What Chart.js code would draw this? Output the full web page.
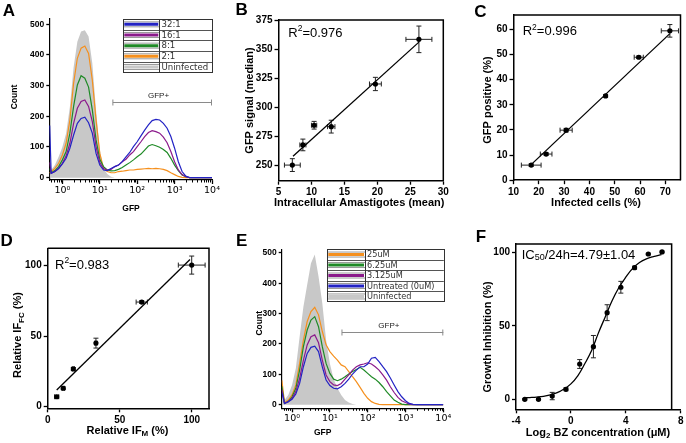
<!DOCTYPE html>
<html><head><meta charset="utf-8">
<script src="https://cdn.jsdelivr.net/npm/chart.js@4/dist/chart.umd.min.js"></script>
<style>
html,body{margin:0;padding:0;background:#fff;width:686px;height:443px;overflow:hidden;position:relative}
canvas{position:absolute}
</style></head><body>
<script>
// ---------------- DATA ----------------
// Panel A: flow histograms (x = log10 GFP)
const gridA = [-0.34,-0.3,-0.2,-0.1,0,0.1,0.2,0.3,0.4,0.5,0.6,0.7,0.8,0.9,1.0,1.1,1.2,1.3,1.4,1.5,1.6,1.7,1.8,1.9,2.0,2.1,2.2,2.3,2.4,2.5,2.6,2.7,2.8,2.9,3.0,3.1,3.2,3.3,3.4,3.5,4.0];
const aUninfected = [20,25,41,68,100,145,230,360,443,476,480,460,373,220,90,30,12,3,0,0,0,0,0,0,0,0,0,0,0,0,0,0,0,0,0,0,0,0,0,0,0];
const a2to1  = [15,20,30,47,74,112,188,308,389,422,429,405,318,188,79,30,20,16,16,20,21,23,25,25,27,28,29,30,29,30,29,27,23,16,10,4,1,0,0,0,0];
const a8to1  = [30,16,23,36,58,85,145,232,302,332,324,295,221,123,60,36,25,22,23,27,33,41,49,58,68,77,90,103,108,104,99,92,82,63,41,23,9,3,0,0,0];
const a16to1 = [50,14,20,30,47,71,112,177,226,248,253,232,183,101,49,30,25,27,36,41,52,60,74,85,101,117,134,147,153,150,145,132,114,85,52,25,10,3,0,0,0];
const a32to1 = [170,14,20,30,45,63,96,139,177,193,197,179,145,79,41,25,23,30,36,41,52,68,82,101,117,136,155,172,186,190,188,177,161,134,96,52,20,5,0,0,0];
const legendA = ['32:1','16:1','8:1','2:1','Uninfected'];

// Panel E: flow histograms
const gridE = [-0.27,-0.2,-0.1,0,0.1,0.2,0.3,0.4,0.5,0.6,0.7,0.8,0.9,1.0,1.1,1.2,1.3,1.4,1.5,1.6,1.7,1.8,1.9,2.0,2.1,2.2,2.3,2.4,2.5,2.6,2.7,2.8,2.9,3.0,3.1,3.2,3.3,3.4,3.5,4.0];
const eUninfected = [10,15,32,65,120,224,323,395,466,495,422,334,213,136,84,54,32,15,7,2,0,0,0,0,0,0,0,0,0,0,0,0,0,0,0,0,0,0,0,0];
const e25uM   = [80,7,15,32,65,136,213,274,307,321,296,241,197,175,160,147,131,125,109,92,76,57,37,21,10,4,1,0,0,0,0,0,0,0,0,0,0,0,0,0];
const e625uM  = [60,4,10,26,54,114,191,246,279,290,257,191,136,103,84,79,84,92,101,109,116,123,114,103,92,84,73,59,43,29,15,8,2,0,0,0,0,0,0,0];
const e3125uM = [50,4,10,21,43,87,147,197,224,230,204,147,98,76,65,63,70,84,98,114,125,131,134,138,134,125,114,98,81,59,40,24,13,7,2,0,0,0,0,0];
const eUntreated = [40,4,10,18,35,70,125,169,189,193,175,125,81,63,54,52,59,70,84,101,114,125,125,134,153,156,142,125,109,88,65,43,26,13,4,1,0,0,0,0];
const legendE = ['25uM','6.25uM','3.125uM','Untreated (0uM)','Uninfected'];
const logTicks = [0,1,2,3,4];
const logTickLabels = ['10\u2070','10\u00b9','10\u00b2','10\u00b3','10\u2074'];
const countTicks = [0,100,200,300,400,500];

// Panel B
const bX = [7.1, 8.7, 10.4, 13.0, 19.7, 26.3];
const bY = [250.5, 267.8, 284.7, 283.5, 320.1, 358.4];
const bXerr = [1.2, 0.46, 0.4, 0.56, 0.9, 1.97];
const bYerr = [5.5, 5.0, 3.3, 5.5, 5.7, 11.4];
const bFitX = [7.2, 26.3];
const bFitY = [258, 356];
const bXTicks = [5,10,15,20,25,30];
const bYTicks = [250,275,300,325,350,375];

// Panel C
const cX = [17.0, 22.9, 30.8, 46.4, 59.5, 71.8];
const cY = [6.0, 10.4, 19.9, 33.5, 48.9, 59.4];
const cXerr = [3.9, 2.3, 2.4, 0, 1.8, 3.4];
const cYerr = [0.5, 0.5, 0.7, 0.5, 0.5, 2.5];
const cFitX = [17.4, 71.7];
const cFitY = [6.6, 58.2];
const cXTicks = [10,20,30,40,50,60,70];
const cYTicks = [0,10,20,30,40,50,60];

// Panel D
const dX = [6.25, 10.8, 17.8, 33.5, 65.3, 100];
const dY = [7.1, 13.1, 26.8, 45.1, 74.2, 100.4];
const dXerr = [1.4, 0.8, 0.8, 0.8, 3.9, 9.3];
const dYerr = [1.0, 1.0, 1.0, 3.5, 1.0, 6.4];
const dFitX = [6.25, 98.8];
const dFitY = [11.9, 104.3];
const dTicks = [0,50,100];

// Panel F
const fX = [-3.36,-2.36,-1.36,-0.36,0.64,1.64,2.64,3.64,4.64,5.64,6.64];
const fY = [0, 0, 2.2, 6.8, 24, 35.8, 58.9, 76.2, 89.5, 98.8, 100.2];
const fYerr = [0.5,0.5,2.5,1,3,7.6,5.4,4,1,0.5,0.5];
const fCurveX = [-3.4,-3,-2.5,-2,-1.5,-1,-0.5,0,0.5,1,1.5,2,2.5,3,3.5,4,4.5,5,5.5,6,6.6];
const fCurveY = [1,1.2,1.5,2,3,4.5,7,10.5,16,24,33,45,56,67,76,83,89,93,95.5,97,98.3];
const fXTicks = [-4,0,4,8];
const fYTicks = [0,50,100];

// ---------------- STYLE ----------------
const COL = {blue:'#2323c4', purple:'#8b1a8b', green:'#1f8a26', orange:'#f5901e', gray:'#c8c8c8'};
const SANS = "'Liberation Sans', Arial, sans-serif";
Chart.defaults.animation = false;
Chart.defaults.font.family = SANS;
Chart.defaults.color = '#000';

const zip = (xs, ys) => xs.map((x,i)=>({x, y:ys[i]}));
const deco = {};

function rich(ctx, segs, x, y, align, rot) {
  ctx.save();
  ctx.translate(x, y);
  if (rot) ctx.rotate(rot);
  ctx.textBaseline = 'middle'; ctx.textAlign = 'left';
  const f = s => (s.bold ? 'bold ' : '') + s.size + 'px ' + (s.family || SANS);
  let w = 0;
  segs.forEach(s => { ctx.font = f(s); w += ctx.measureText(s.t).width; });
  let cx = align === 'center' ? -w/2 : (align === 'right' ? -w : 0);
  segs.forEach(s => { ctx.font = f(s); ctx.fillStyle = s.color || '#000'; ctx.fillText(s.t, cx, s.dy || 0); cx += ctx.measureText(s.t).width; });
  ctx.restore();
}

const decoPlugin = {
  id: 'decoPlugin',
  beforeDatasetsDraw(chart) {
    const o = deco[chart.canvas.id]; if (!o || !o.errors) return;
    const ctx = chart.ctx, xs = chart.scales.x, ys = chart.scales.y, e = o.errors;
    ctx.save(); ctx.strokeStyle = '#222'; ctx.lineWidth = 1;
    e.x.forEach((xv, i) => {
      const px = xs.getPixelForValue(xv), py = ys.getPixelForValue(e.y[i]);
      if (e.xe && e.xe[i] > 0) {
        const a = xs.getPixelForValue(xv - e.xe[i]), b = xs.getPixelForValue(xv + e.xe[i]);
        ctx.beginPath(); ctx.moveTo(a, py); ctx.lineTo(b, py);
        ctx.moveTo(a, py-2.5); ctx.lineTo(a, py+2.5); ctx.moveTo(b, py-2.5); ctx.lineTo(b, py+2.5); ctx.stroke();
      }
      if (e.ye && e.ye[i] > 0) {
        const a = ys.getPixelForValue(e.y[i] - e.ye[i]), b = ys.getPixelForValue(e.y[i] + e.ye[i]);
        ctx.beginPath(); ctx.moveTo(px, a); ctx.lineTo(px, b);
        ctx.moveTo(px-2.5, a); ctx.lineTo(px+2.5, a); ctx.moveTo(px-2.5, b); ctx.lineTo(px+2.5, b); ctx.stroke();
      }
    });
    ctx.restore();
  },
  afterDraw(chart) {
    const o = deco[chart.canvas.id]; if (!o) return;
    const ctx = chart.ctx, ca = chart.chartArea, xs = chart.scales.x, ys = chart.scales.y;
    const ox = o.rect.x, oy = o.rect.y;
    ctx.save();
    if (o.frame) {
      ctx.strokeStyle = '#000'; ctx.lineWidth = o.frameW || 1.5;
      const r = o.frameEnd !== undefined ? xs.getPixelForValue(o.frameEnd) : ca.right;
      ctx.beginPath(); ctx.moveTo(ca.left, ca.top); ctx.lineTo(r, ca.top); ctx.lineTo(r, ca.bottom); ctx.stroke();
    }
    if (o.minorLog) {
      ctx.strokeStyle = '#000'; ctx.lineWidth = 1;
      ctx.beginPath();
      for (let d = -1; d <= 3; d++) for (let k = 2; k <= 9; k++) {
        const v = d + Math.log10(k);
        if (v < xs.min || v > xs.max) continue;
        const p = Math.round(xs.getPixelForValue(v)) + 0.5;
        ctx.moveTo(p, ca.bottom); ctx.lineTo(p, ca.bottom + 2.5);
      }
      ctx.stroke();
    }
    if (o.gate) {
      const g = o.gate;
      const a = xs.getPixelForValue(g.from), b = xs.getPixelForValue(g.to), y = Math.round(ys.getPixelForValue(g.y)) + 0.5;
      ctx.strokeStyle = '#8a8a8a'; ctx.lineWidth = 1;
      ctx.beginPath(); ctx.moveTo(a, y); ctx.lineTo(b, y);
      ctx.moveTo(a, y-3); ctx.lineTo(a, y+3); ctx.moveTo(b-0.5, y-3); ctx.lineTo(b-0.5, y+3); ctx.stroke();
      rich(ctx, [{t: g.label, size: 8, color:'#222'}], xs.getPixelForValue(g.textX), ys.getPixelForValue(g.textY), 'center');
    }
    if (o.legend) {
      const L = o.legend;
      const l = L.l - ox, t = L.t - oy, r = L.r - ox, bt = L.b - oy, sw = L.sw - ox;
      const rh = (bt - t) / L.labels.length;
      ctx.fillStyle = '#fff'; ctx.fillRect(l, t, r - l, bt - t);
      L.labels.forEach((lab, i) => {
        const yc = t + rh * (i + 0.5);
        ctx.strokeStyle = '#9a9a9a'; ctx.lineWidth = 1;
        ctx.beginPath(); ctx.moveTo(l, yc - 2.5); ctx.lineTo(sw, yc - 2.5); ctx.moveTo(l, yc + 2.5); ctx.lineTo(sw, yc + 2.5); ctx.stroke();
        ctx.strokeStyle = L.colors[i]; ctx.lineWidth = 3;
        ctx.beginPath(); ctx.moveTo(l + 1, yc); ctx.lineTo(sw - 1, yc); ctx.stroke();
        rich(ctx, [{t: lab, size: L.fs, family: "'DejaVu Sans', sans-serif", color:'#333'}], L.tx - ox, yc + 0.5, 'left');
        if (i > 0) {
          ctx.strokeStyle = '#555'; ctx.lineWidth = 1;
          ctx.beginPath(); ctx.moveTo(l, Math.round(t + rh*i) + 0.5); ctx.lineTo(r, Math.round(t + rh*i) + 0.5); ctx.stroke();
        }
      });
      ctx.strokeStyle = '#333'; ctx.lineWidth = 1;
      ctx.strokeRect(Math.round(l)+0.5, Math.round(t)+0.5, Math.round(r-l), Math.round(bt-t));
      ctx.beginPath(); ctx.moveTo(Math.round(sw)+0.5, t); ctx.lineTo(Math.round(sw)+0.5, bt); ctx.stroke();
    }
    (o.texts || []).forEach(T => rich(ctx, T.segs, T.x - ox, T.y - oy, T.align || 'center', T.rot || 0));
    ctx.restore();
  }
};
Chart.register(decoPlugin);

function axis(opts) {
  const o = {
    type: 'linear', min: opts.min, max: opts.max,
    afterBuildTicks: s => { s.ticks = opts.ticks.map(v => ({value: v})); },
    afterFit: opts.fit,
    grid: {display: true, drawOnChartArea: false, drawTicks: true, tickLength: opts.tickLength || 4, tickWidth: opts.tickWidth || 1.3, tickColor: '#000'},
    border: {display: true, color: '#000', width: opts.borderW || 1.5},
    ticks: {color: '#000', font: opts.font || {size: 10, weight: 'bold'}, padding: opts.pad === undefined ? 2 : opts.pad, maxRotation: 0, autoSkip: false}
  };
  if (opts.labels) o.ticks.callback = (v) => opts.labels[opts.ticks.indexOf(v)];
  return o;
}

function makePanel(id, rect, area, xo, yo, datasets, d) {
  const c = document.createElement('canvas');
  c.id = id; c.width = rect.w; c.height = rect.h;
  c.style.left = rect.x + 'px'; c.style.top = rect.y + 'px';
  c.style.width = rect.w + 'px'; c.style.height = rect.h + 'px';
  document.body.appendChild(c);
  d.rect = rect; deco[id] = d;
  xo.fit = s => { s.height = rect.y + rect.h - area.b; };
  yo.fit = s => { s.width = area.l - rect.x; };
  new Chart(c, {
    type: 'line',
    data: {datasets},
    options: {
      responsive: false, devicePixelRatio: 1, events: [],
      layout: {padding: {left: 0, bottom: 0, top: area.t - rect.y, right: rect.x + rect.w - area.r}},
      plugins: {legend: {display: false}, tooltip: {enabled: false}},
      scales: {x: axis(xo), y: axis(yo)}
    }
  });
}

const histLine = (grid, vals, color) => ({data: zip(grid, vals), borderColor: color, borderWidth: 1.2, pointRadius: 0, tension: 0, fill: false});
const histFill = (grid, vals) => ({data: zip(grid, vals), borderColor: 'rgba(0,0,0,0)', borderWidth: 0, backgroundColor: COL.gray, pointRadius: 0, tension: 0, fill: 'origin'});
const pts = (xs, ys, r) => ({data: zip(xs, ys), showLine: false, pointRadius: r || 2.6, pointBackgroundColor: '#000', pointBorderWidth: 0});
const fit = (xs, ys, tension) => ({data: zip(xs, ys), borderColor: '#000', borderWidth: 1.3, pointRadius: 0, tension: tension || 0, fill: false});
const title = (t, x, y, rot) => ({segs: [{t, size: 11, bold: true}], x, y, rot: rot ? -Math.PI/2 : 0});
const letter = (t, x, y) => ({segs: [{t, size: 17, bold: true}], x, y});
const logFont = {size: 9.5, family: "'DejaVu Sans', sans-serif"};
const countFont = {size: 8.5, weight: 'bold'};

// ---------- Panel A ----------
makePanel('pA', {x:0, y:0, w:228, h:220}, {l:49.3, t:19, r:212, b:180},
  {min: -0.35, max: 4.0, ticks: logTicks, labels: logTickLabels, font: logFont, tickLength: 4, borderW: 1.2, pad: 1},
  {min: -7.6, max: 517, ticks: countTicks, font: countFont, tickLength: 3, borderW: 1.2, pad: 2},
  [histLine(gridA, a32to1, COL.blue), histLine(gridA, a16to1, COL.purple), histLine(gridA, a8to1, COL.green),
   histLine(gridA, a2to1, COL.orange), histFill(gridA, aUninfected)],
  {minorLog: true,
   gate: {from: 1.35, to: 4.0, y: 245, label: 'GFP+', textX: 2.57, textY: 266},
   legend: {l: 123.3, t: 19, r: 212, b: 72.3, sw: 159.3, tx: 161.5, fs: 8.6, labels: legendA, colors: [COL.blue, COL.purple, COL.green, COL.orange, COL.gray]},
   texts: [letter('A', 9, 11),
     {segs: [{t: 'Count', size: 8.5, bold: true}], x: 15, y: 97, rot: -Math.PI/2},
     {segs: [{t: 'GFP', size: 8.5, bold: true}], x: 131, y: 209}]});

// ---------- Panel B ----------
makePanel('pB', {x:228, y:0, w:227, h:220}, {l:278.5, t:20, r:443.3, b:180.7},
  {min: 5, max: 30, ticks: bXTicks},
  {min: 237.1, max: 375, ticks: bYTicks},
  [fit(bFitX, bFitY), pts(bX, bY)],
  {frame: true, errors: {x: bX, y: bY, xe: bXerr, ye: bYerr},
   texts: [letter('B', 241.7, 10.5),
     title('GFP signal (median)', 250.3, 100.5, true),
     title('Intracellular Amastigotes (mean)', 359.2, 203.3),
     {segs: [{t:'R', size: 13}, {t:'2', size: 8.5, dy: -4.5}, {t:'=0.976', size: 13}], x: 288.3, y: 33.3, align: 'left'}]});

// ---------- Panel C ----------
makePanel('pC', {x:455, y:0, w:231, h:220}, {l:513.5, t:15, r:680.5, b:180.2},
  {min: 10, max: 76, ticks: cXTicks},
  {min: 0, max: 65.7, ticks: cYTicks},
  [fit(cFitX, cFitY), pts(cX, cY)],
  {frame: true, errors: {x: cX, y: cY, xe: cXerr, ye: cYerr},
   texts: [letter('C', 480.5, 12),
     title('GFP positive (%)', 488.3, 100, true),
     title('Infected cells (%)', 596, 203.3),
     {segs: [{t:'R', size: 13}, {t:'2', size: 8.5, dy: -4.5}, {t:'=0.996', size: 13}], x: 522.7, y: 31.7, align: 'left'}]});

// ---------- Panel D ----------
makePanel('pD', {x:0, y:220, w:228, h:223}, {l:47.7, t:248.3, r:209, b:408.3},
  {min: 0, max: 112, ticks: dTicks},
  {min: -1.1, max: 112.3, ticks: dTicks},
  [fit(dFitX, dFitY), pts(dX, dY)],
  {frame: true, errors: {x: dX, y: dY, xe: dXerr, ye: dYerr},
   texts: [letter('D', 6.7, 241.3),
     {segs: [{t:'Relative IF', size: 11, bold: true}, {t:'FC', size: 8, bold: true, dy: 3}, {t:' (%)', size: 11, bold: true}], x: 18.3, y: 335, rot: -Math.PI/2},
     {segs: [{t:'Relative IF', size: 11, bold: true}, {t:'M', size: 8, bold: true, dy: 3}, {t:' (%)', size: 11, bold: true}], x: 127.5, y: 430.8},
     {segs: [{t:'R', size: 13}, {t:'2', size: 8.5, dy: -4.5}, {t:'=0.983', size: 13}], x: 55, y: 265, align: 'left'}]});

// ---------- Panel E ----------
makePanel('pE', {x:228, y:220, w:227, h:223}, {l:281.7, t:249.3, r:443.3, b:408.3},
  {min: -0.274, max: 4.0, ticks: logTicks, labels: logTickLabels, font: logFont, tickLength: 4, borderW: 1.2, pad: 1},
  {min: -12, max: 512, ticks: countTicks, font: countFont, tickLength: 3, borderW: 1.2, pad: 2},
  [histLine(gridE, eUntreated, COL.blue), histLine(gridE, e3125uM, COL.purple), histLine(gridE, e625uM, COL.green),
   histLine(gridE, e25uM, COL.orange), histFill(gridE, eUninfected)],
  {minorLog: true,
   gate: {from: 1.32, to: 4.0, y: 241, label: 'GFP+', textX: 2.56, textY: 261},
   legend: {l: 327.3, t: 249.3, r: 443.8, b: 301.7, sw: 365, tx: 367, fs: 8.2, labels: legendE, colors: [COL.orange, COL.green, COL.purple, COL.blue, COL.gray]},
   texts: [letter('E', 241.7, 241.7),
     {segs: [{t: 'Count', size: 8.5, bold: true}], x: 260, y: 323.3, rot: -Math.PI/2},
     {segs: [{t: 'GFP', size: 8.5, bold: true}], x: 322.7, y: 433}]});

// ---------- Panel F ----------
makePanel('pF', {x:455, y:220, w:231, h:223}, {l:516, t:244, r:680.7, b:409.3},
  {min: -4, max: 8, ticks: fXTicks},
  {min: -6.8, max: 105.6, ticks: fYTicks},
  [fit(fCurveX, fCurveY, 0.4), pts(fX, fY)],
  {frame: true, frameEnd: 7.34, errors: {x: fX, y: fY, ye: fYerr},
   texts: [letter('F', 481, 237.5),
     title('Growth Inhibition (%)', 487.5, 337, true),
     {segs: [{t:'Log', size: 11, bold: true}, {t:'2', size: 8, bold: true, dy: 3}, {t:' BZ concentration (\u03bcM)', size: 11, bold: true}], x: 598, y: 433},
     {segs: [{t:'IC', size: 13}, {t:'50', size: 9, dy: 3}, {t:'/24h=4.79\u00b11.04', size: 13}], x: 521.7, y: 255, align: 'left'}]});
</script>
</body></html>
